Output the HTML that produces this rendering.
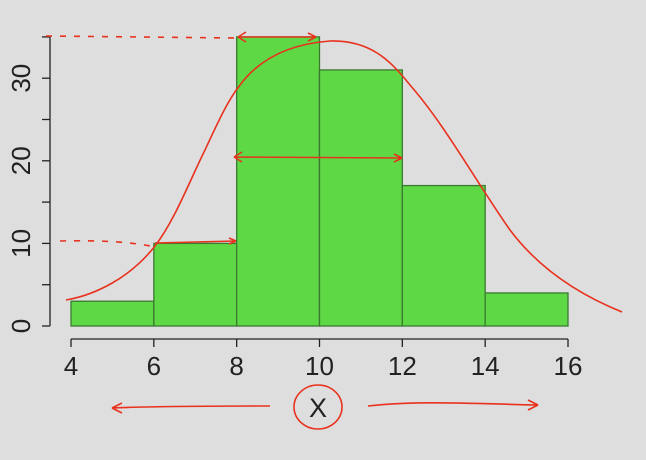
<!DOCTYPE html>
<html><head><meta charset="utf-8"><style>
html,body{margin:0;padding:0;background:#dedede;}
svg{display:block;font-family:"Liberation Sans",sans-serif;}
</style></head><body>
<svg id="chart" width="646" height="460">
<rect width="646" height="460" fill="#dedede"/>
<g id="bars"></g>
<g id="axes"></g>
<g id="annot" fill="none" stroke="#e8321e" stroke-width="1.6">
<path d="M66,300 C95,295 130,278 155,246 C175,220 190,180 205,150 C218,122 228,100 240,85 C260,58 290,44 330,41 C370,40 390,60 410,85 C445,125 475,180 510,230 C540,270 580,295 622,312"/>
<path d="M46,36 L236,38" stroke-dasharray="6,8"/>
<path d="M60,241 C100,240 130,242 150,246" stroke-dasharray="6,8"/>
<path d="M238,37 L316,37 M238,37 l8,-5 M238,37 l8,5 M316,37 l-8,-4 M316,37 l-8,4"/>
<path d="M234,157 L402,158 M234,157 l8,-5 M234,157 l8,5 M402,158 l-8,-4 M402,158 l-8,4"/>
<path d="M155,243 L236,241 M236,241 l-7,-3 M236,241 l-7,3"/>
<path d="M270,406 C220,406 160,406 112,408 M112,408 l10,-5 M112,408 l10,5"/>
<path d="M368,406 C420,400 480,404 538,405 M538,405 l-10,-5 M538,405 l-10,5"/>
<ellipse cx="318" cy="407" rx="24" ry="22"/>
</g>
<text x="318" y="417" text-anchor="middle" font-size="27" fill="#222">X</text>
</svg>
<script>
const binEdges=[4,6,8,10,12,14,16];
const counts=[3,10,35,31,17,4];
const xTicks=[4,6,8,10,12,14,16];
const yTicks=[0,5,10,15,20,25,30,35];
const yLabels=[0,10,20,30];
const NS="http://www.w3.org/2000/svg";
const sx=v=>71+(v-4)*(568-71)/12;
const sy=v=>326-v*8.26;
function mk(t,a,p){const e=document.createElementNS(NS,t);for(const k in a)e.setAttribute(k,a[k]);p.appendChild(e);return e;}
const bars=document.getElementById('bars'),axes=document.getElementById('axes');
counts.forEach((c,i)=>{
 const r=mk('rect',{x:sx(binEdges[i]),y:sy(c),width:sx(binEdges[i+1])-sx(binEdges[i]),height:sy(0)-sy(c),fill:'#5fd845',stroke:'#3a7a30','stroke-width':1.3},bars);
 
 
});
const xl=mk('line',{x1:sx(xTicks[0]),x2:sx(xTicks[xTicks.length-1]),y1:339,y2:339,stroke:'#222','stroke-width':1.3},axes);


xTicks.forEach(t=>{
 const l=mk('line',{x1:sx(t),x2:sx(t),y1:339,y2:347,stroke:'#222','stroke-width':1.3},axes);
 
 
 const tx=mk('text',{x:sx(t),y:375,'text-anchor':'middle','font-size':26,fill:'#222'},axes);
 tx.textContent=t;
 
 
});
const yl=mk('line',{x1:50,x2:50,y1:sy(yTicks[0]),y2:sy(yTicks[yTicks.length-1]),stroke:'#222','stroke-width':1.3},axes);


yTicks.forEach(t=>{
 const l=mk('line',{x1:42,x2:50,y1:sy(t),y2:sy(t),stroke:'#222','stroke-width':1.3},axes);
 
 
});
yLabels.forEach(t=>{
 const tx=mk('text',{x:0,y:0,'text-anchor':'middle','font-size':26,fill:'#222',transform:`translate(30,${sy(t)}) rotate(-90)`},axes);
 tx.textContent=t;
 
 
});
</script>
</body></html>
